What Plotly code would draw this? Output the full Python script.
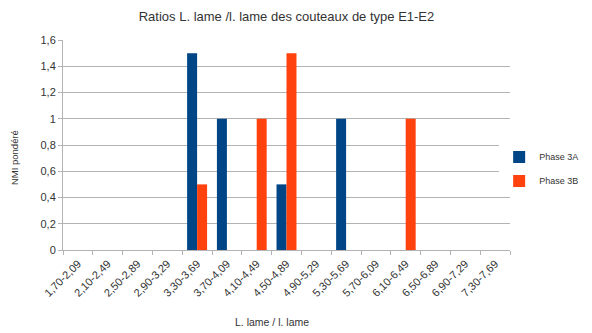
import plotly.graph_objects as go

categories = ["1,70-2,09", "2,10-2,49", "2,50-2,89", "2,90-3,29", "3,30-3,69",
              "3,70-4,09", "4,10-4,49", "4,50-4,89", "4,90-5,29", "5,30-5,69",
              "5,70-6,09", "6,10-6,49", "6,50-6,89", "6,90-7,29", "7,30-7,69"]
phase_3a = [None, None, None, None, 1.5, 1, None, 0.5, None, 1, None, None, None, None, None]
phase_3b = [None, None, None, None, 0.5, None, 1, 1.5, None, None, None, 1, None, None, None]
y_ticks = [0, 0.2, 0.4, 0.6, 0.8, 1, 1.2, 1.4, 1.6]

font = "Liberation Sans, Arial, sans-serif"

fig = go.Figure()
fig.add_trace(go.Bar(x=categories, y=phase_3a, name="Phase 3A", marker_color="#004586",
                     marker_line_width=0, legendgroup="a"))
fig.add_trace(go.Bar(x=categories, y=phase_3b, name="Phase 3B", marker_color="#ff420e",
                     marker_line_width=0, legendgroup="b"))

fig.update_layout(
    width=584, height=325,
    paper_bgcolor="white", plot_bgcolor="white",
    separators=", ",
    barmode="group", bargap=0.33, bargroupgap=0,
    margin=dict(l=55, r=82, t=32, b=83, autoexpand=False),
    font=dict(family=font, size=10, color="#333333"),
    title=dict(text="Ratios L. lame /l. lame des couteaux de type E1-E2",
               x=0.5, xanchor="center", xref="paper", y=0.975, yanchor="middle",
               font=dict(size=13, color="#333333")),
    legend=dict(xref="container", yref="container", x=0.841, y=0.505,
                xanchor="left", yanchor="middle", tracegroupgap=5,
                font=dict(size=9, color="#333333"), itemwidth=30),
    showlegend=True,
    annotations=[
        dict(text="L. lame / l. lame", xref="paper", yref="paper", x=0.4676, y=-0.343,
             xanchor="center", yanchor="middle", showarrow=False,
             font=dict(size=10.5, color="#333333")),
        dict(text="NMI pondéré", xref="paper", yref="paper", x=-0.1096, y=0.438,
             xanchor="center", yanchor="middle", showarrow=False, textangle=-90,
             font=dict(size=9.5, color="#333333")),
    ],
)
fig.update_xaxes(
    type="category", categoryorder="array", categoryarray=categories,
    tickangle=-45, tickson="boundaries", ticks="outside", ticklen=4,
    tickcolor="#b3b3b3", showline=True, linecolor="#b3b3b3", linewidth=1,
    showgrid=False, tickfont=dict(size=11), automargin=False, ticklabelstandoff=2,
)
fig.update_yaxes(
    range=[0, 1.6], tickvals=y_ticks, ticks="outside", ticklen=4,
    tickcolor="#b3b3b3", showline=True, linecolor="#b3b3b3", linewidth=1,
    showgrid=True, gridcolor="#b3b3b3", gridwidth=1, zeroline=False,
    tickfont=dict(size=11), automargin=False,
)

fig.write_html("out.html")
